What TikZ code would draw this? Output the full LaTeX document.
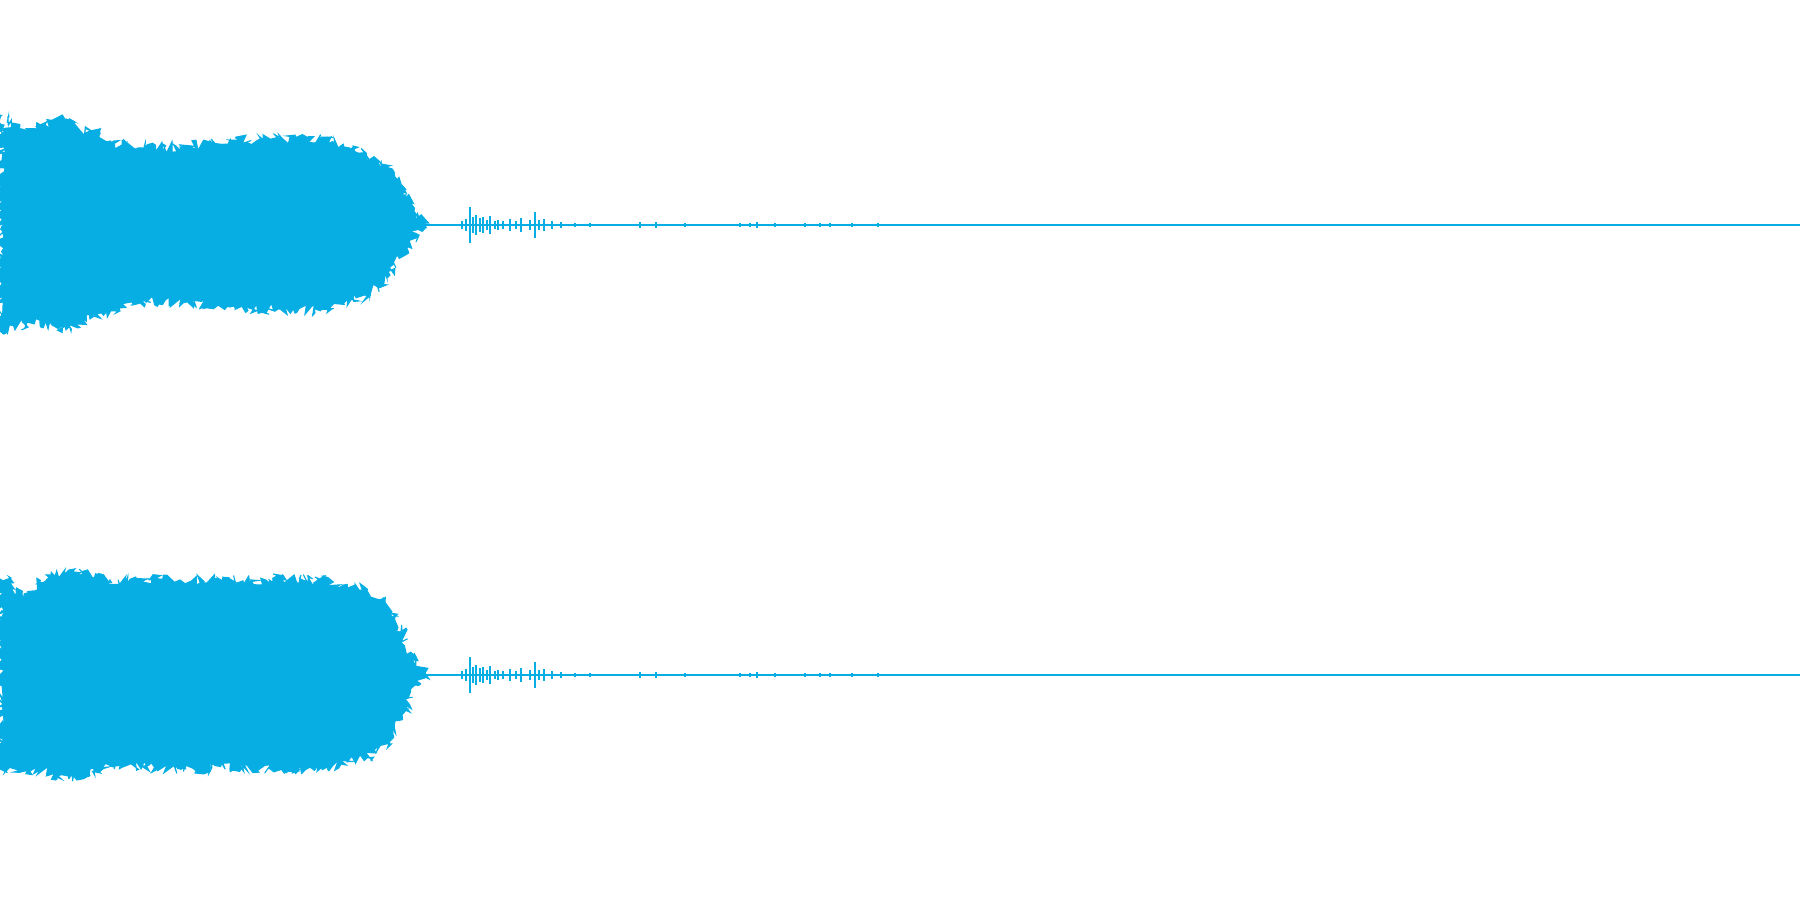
\documentclass[tikz,border=0pt]{standalone}
\usetikzlibrary{decorations.pathmorphing}
\definecolor{wave}{HTML}{06AEE4}
\pgfmathsetseed{7}
\tikzset{env/.style={fill=wave, draw=wave, line width=0.3pt,
    decorate, decoration={random steps, segment length=0.6pt, amplitude=1.6pt}},
  base/.style={draw=wave, line width=0.45pt},
  blip/.style={draw=wave, line width=0.4pt}}
\newcommand{\blips}{%
  \foreach \x/\h in {4.62/0.04, 4.66/0.06, 4.70/0.18, 4.73/0.08, 4.76/0.10, 4.80/0.07, 4.83/0.08, 4.87/0.05, 4.90/0.09, 4.95/0.04, 4.98/0.05, 5.03/0.04, 5.10/0.06, 5.16/0.04, 5.21/0.07,
    5.30/0.05, 5.35/0.13, 5.39/0.05, 5.44/0.06, 5.52/0.04, 5.61/0.03, 5.75/0.02, 5.90/0.02, 6.40/0.03, 6.56/0.03, 6.85/0.02,
    7.40/0.02, 7.50/0.02, 7.57/0.03, 7.75/0.02, 8.05/0.02, 8.20/0.02, 8.30/0.02, 8.52/0.02, 8.78/0.02}
    \draw[blip] (\x,-\h) -- (\x,\h);}
\begin{document}
\begin{tikzpicture}
  \useasboundingbox (0,0) rectangle (18,9);
  % upper channel
  \begin{scope}[shift={(0,6.75)}]
    \fill[env] (0,0) -- (0,1.10) -- (0.05,0.90) -- (0.08,1.08) -- (0.2,0.92) -- (0.45,1.00) -- (0.66,1.06)
      -- (0.72,0.98) -- (1.0,0.92) -- (1.05,0.83) -- (1.38,0.77) -- (1.8,0.78) -- (2.3,0.83) -- (2.7,0.86)
      -- (3.21,0.87) -- (3.44,0.78) -- (3.79,0.64) -- (3.95,0.48) -- (4.06,0.30) -- (4.13,0.13) -- (4.25,0.02)
      -- (4.25,-0.02) -- (4.15,-0.08) -- (4.05,-0.25) -- (3.9,-0.50) -- (3.7,-0.68) -- (3.44,-0.78) -- (3.21,-0.86)
      -- (2.8,-0.84) -- (2.3,-0.82) -- (1.8,-0.78) -- (1.38,-0.76) -- (1.10,-0.86) -- (0.9,-0.94)
      -- (0.66,-1.05) -- (0.4,-0.98) -- (0.1,-1.00) -- (0.05,-1.08) -- (0,-1.06) -- cycle;
    \draw[base] (4.2,0) -- (18,0);
    \blips
  \end{scope}
  % lower channel
  \begin{scope}[shift={(0,2.25)}]
    \fill[env] (0,0) -- (0,0.96) -- (0.1,0.92) -- (0.23,0.78) -- (0.4,0.93) -- (0.69,1.05) -- (1.1,0.95)
      -- (1.8,0.95) -- (2.3,0.96) -- (3.2,0.95) -- (3.67,0.84) -- (3.85,0.72) -- (4.02,0.44) -- (4.13,0.15)
      -- (4.25,0.02) -- (4.25,-0.02) -- (4.15,-0.10) -- (4.05,-0.35) -- (3.9,-0.66) -- (3.67,-0.83)
      -- (3.2,-0.94) -- (2.3,-0.93) -- (1.8,-0.94) -- (1.15,-0.89) -- (0.69,-1.04) -- (0.4,-0.95)
      -- (0.1,-0.92) -- (0,-0.94) -- cycle;
    \draw[base] (4.2,0) -- (18,0);
    \blips
  \end{scope}
\end{tikzpicture}
\end{document}
